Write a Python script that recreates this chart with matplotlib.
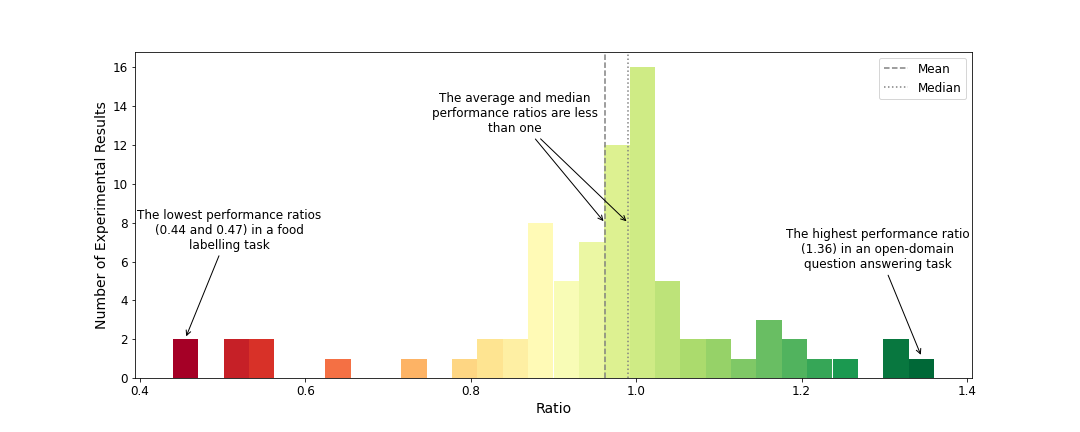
import numpy as np
import matplotlib
matplotlib.use("Agg")
import matplotlib.pyplot as plt

# Histogram data (30 equal-width bins between the min and max ratio)
ratio_min = 0.44
ratio_max = 1.36
counts = [2, 0, 2, 2, 0, 0, 1, 0, 0, 1,
          0, 1, 2, 2, 8, 5, 7, 12, 16, 5,
          2, 2, 1, 3, 2, 1, 1, 0, 2, 1]
mean_ratio = 0.962
median_ratio = 0.990

xticks = [0.4, 0.6, 0.8, 1.0, 1.2, 1.4]
yticks = [0, 2, 4, 6, 8, 10, 12, 14, 16]

n_bins = len(counts)
edges = np.linspace(ratio_min, ratio_max, n_bins + 1)
centers = (edges[:-1] + edges[1:]) / 2

fig = plt.figure(figsize=(15, 6), dpi=72)
ax = fig.add_subplot(111)
fig.subplots_adjust(left=0.125, right=0.9, top=0.88, bottom=0.125)

n, bins, patches = ax.hist(centers, bins=edges, weights=counts)
cmap = plt.get_cmap("RdYlGn")
for i, p in enumerate(patches):
    p.set_facecolor(cmap(i / (n_bins - 1)))
    p.set_edgecolor("none")

ax.axvline(mean_ratio, color="grey", linestyle="--", linewidth=1.5, label="Mean")
ax.axvline(median_ratio, color="grey", linestyle=":", linewidth=1.5, label="Median")

ax.set_xticks(xticks)
ax.set_yticks(yticks)
ax.tick_params(labelsize=12)
ax.set_xlabel("Ratio", fontsize=14)
ax.set_ylabel("Number of Experimental Results", fontsize=14)

ax.legend(loc="upper right", fontsize=12)

fs = 12
arrow = dict(arrowstyle="->", color="black", linewidth=1)
ax.annotate("The lowest performance ratios\n(0.44 and 0.47) in a food\nlabelling task",
            xy=(0.455, 2.05), xytext=(0.508, 7.6), ha="center", va="center",
            fontsize=fs, arrowprops=arrow)
mid_text = "The average and median\nperformance ratios are less\nthan one"
ax.annotate(mid_text, xy=(mean_ratio, 8.0), xytext=(0.853, 13.6),
            ha="center", va="center", fontsize=fs, arrowprops=arrow)
ax.annotate(mid_text, xy=(median_ratio, 8.0), xytext=(0.853, 13.6),
            ha="center", va="center", fontsize=fs, color=(0, 0, 0, 0),
            arrowprops=arrow)
ax.annotate("The highest performance ratio\n(1.36) in an open-domain\nquestion answering task",
            xy=(1.345, 1.1), xytext=(1.292, 6.6), ha="center", va="center",
            fontsize=fs, arrowprops=arrow)

fig.savefig("out.png", dpi=72)
